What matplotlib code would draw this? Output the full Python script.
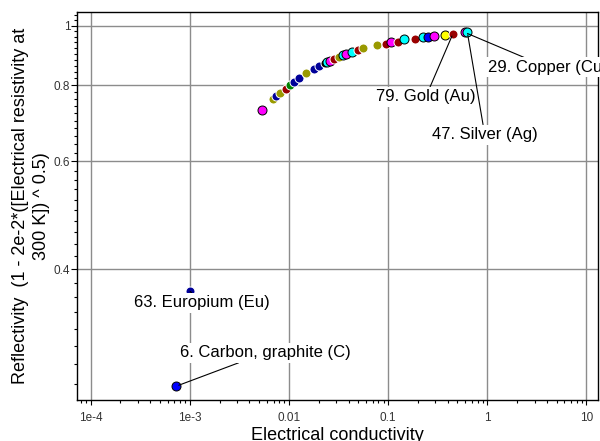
import matplotlib
matplotlib.use("Agg")
import matplotlib.pyplot as plt
from matplotlib.ticker import FixedLocator, NullFormatter

plt.rcParams["font.family"] = ["Liberation Sans", "DejaVu Sans"]

# conductivity (x) and reflectivity (y), one colour group per point
cond = [0.00542, 0.00694, 0.0075, 0.00809, 0.00925, 0.0102, 0.0113, 0.01268, 0.01503, 0.01782,
        0.0201, 0.0232, 0.0243, 0.0262, 0.0288, 0.0321, 0.0355, 0.0381, 0.0438, 0.0495,
        0.056, 0.0774, 0.0948, 0.108, 0.125, 0.146, 0.186, 0.225, 0.253, 0.289,
        0.373, 0.452, 0.596, 0.63, 0.00101, 0.00073]
refl = [0.729, 0.758, 0.768, 0.777, 0.789, 0.799, 0.808, 0.820, 0.836, 0.851,
        0.859, 0.868, 0.872, 0.877, 0.883, 0.890, 0.896, 0.900, 0.907, 0.913,
        0.918, 0.929, 0.934, 0.939, 0.942, 0.950, 0.953, 0.959, 0.959, 0.961,
        0.966, 0.971, 0.975, 0.976, 0.368, 0.2576]
group = ["m", "o", "n", "o", "r", "g", "n", "n", "o", "n",
         "n", "k", "c", "m", "r", "o", "c", "m", "c", "r",
         "o", "o", "r", "m", "r", "c", "r", "c", "b", "m",
         "y", "r", "m", "c", "n", "b"]

palette = {"m": "#ff00ff", "o": "#999900", "r": "#990000", "g": "#008000", "n": "#000099",
           "c": "#00ffff", "b": "#0000ff", "y": "#ffff00", "k": "#000000"}
edges = {"m": "black", "o": "white", "r": "white", "g": "white", "n": "white",
         "c": "black", "b": "black", "y": "black", "k": "white"}

labels = [("29. Copper (Cu)", 0.596, 0.975, 1.01, 0.855, "left"),
          ("79. Gold (Au)", 0.452, 0.971, 0.240, 0.765, "center"),
          ("47. Silver (Ag)", 0.63, 0.976, 0.944, 0.664, "center"),
          ("63. Europium (Eu)", 0.00101, 0.368, 0.001325, 0.3526, "center"),
          ("6. Carbon, graphite (C)", 0.00073, 0.2576, 0.00578, 0.2921, "center")]

fig = plt.figure(figsize=(6.0, 4.41), dpi=100)
ax = fig.add_axes([0.1283, 0.093, 0.8684, 0.8798])
ax.set_xscale("log")
ax.set_yscale("log")
ax.set_xlim(7.3e-5, 13.1)
ax.set_ylim(0.2446, 1.053)

for xi, yi, gi in zip(cond, refl, group):
    ax.scatter(xi, yi, s=42, c=palette[gi], edgecolors=edges[gi], linewidths=0.7, zorder=2)

for txt, px, py, tx, ty, ha in labels:
    ax.annotate(txt, xy=(px, py), xytext=(tx, ty), ha=ha, va="center", fontsize=12,
                bbox=dict(boxstyle="square,pad=0.15", fc="white", ec="none"),
                arrowprops=dict(arrowstyle="-", color="black", lw=0.8, shrinkA=0, shrinkB=2),
                zorder=4, annotation_clip=False)

xt = [1e-4, 1e-3, 0.01, 0.1, 1, 10]
ax.xaxis.set_major_locator(FixedLocator(xt))
ax.set_xticklabels(["1e-4", "1e-3", "0.01", "0.1", "1", "10"])
yt = [0.4, 0.6, 0.8, 1.0]
ax.yaxis.set_major_locator(FixedLocator(yt))
ax.set_yticklabels(["0.4", "0.6", "0.8", "1"])
yminor = [v / 100 for v in range(26, 106, 2) if v not in (40, 60, 80, 100)]
ax.yaxis.set_minor_locator(FixedLocator(yminor))
ax.yaxis.set_minor_formatter(NullFormatter())
ax.xaxis.set_minor_formatter(NullFormatter())

ax.tick_params(which="both", direction="out", width=0.8, labelsize=8.5, labelcolor="#333333")
ax.tick_params(axis="y", which="major", length=4.3, pad=0.5)
ax.tick_params(axis="y", which="minor", length=2.2)
ax.tick_params(axis="x", which="major", length=3.6, pad=5)
ax.tick_params(axis="x", which="minor", length=2.2)
ax.grid(True, which="major", color="#8c8c8c", lw=1.0)
ax.set_axisbelow(True)
for s in ax.spines.values():
    s.set_linewidth(1.0)

ax.set_xlabel("Electrical conductivity", fontsize=13, labelpad=2)
ax.set_ylabel("Reflectivity  (1 - 2e-2*([Electrical resistivity at\n300 K]) ^ 0.5)",
              fontsize=13, linespacing=1.3)
ax.yaxis.set_label_coords(-0.052, 0.5)

fig.savefig("out.png", dpi=100)
